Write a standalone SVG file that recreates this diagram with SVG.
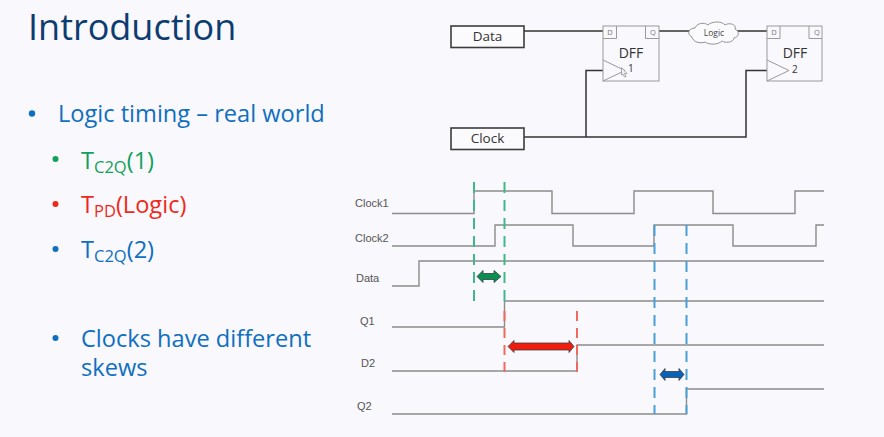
<svg xmlns="http://www.w3.org/2000/svg" width="884" height="437" viewBox="0 0 884 437">
<style>
text{font-family:"Open Sans","Noto Sans","Liberation Sans",sans-serif}
.box{fill:#fbfafd;stroke:#3c3c3c;stroke-width:1.6}
.wire{fill:none;stroke:#333;stroke-width:1.5}
.ff{fill:none;stroke:#9a9a9a;stroke-width:1}
.sig{fill:none;stroke:#8c8c8c;stroke-width:1.4}
.lab{font-size:11px;fill:#555;font-family:"Liberation Sans",sans-serif}
.blab{font-size:13.5px;fill:#333;text-anchor:middle}
.pin{font-size:7.5px;fill:#777;text-anchor:middle}
.dff{font-size:14px;fill:#333;text-anchor:middle}
.num{font-size:10px;fill:#333}
.b1{font-size:23.6px;fill:#0f6fc0}
.sub{font-size:16.5px}
.dg{stroke:#3fb98a;stroke-width:2;stroke-dasharray:11 7;fill:none}
.dr{stroke:#ee6a5f;stroke-width:2;stroke-dasharray:10 7;fill:none}
.db{stroke:#4a9fd6;stroke-width:2;stroke-dasharray:11 7;fill:none}
.arr{stroke:#3a3f45;stroke-width:.8}
</style>
<rect width="884" height="437" fill="#f9f8fc"/>
<g id="slide-text">
<text x="28" y="40" font-size="36" fill="#0c3c70">Introduction</text>
<circle cx="32" cy="113.500" r="3.200" fill="#0f6fc0"/>
<text x="58" y="122" class="b1">Logic timing – real world</text>
<circle cx="55.500" cy="159" r="3" fill="#12a05c"/>
<text x="81" y="169" class="b1" style="fill:#12a05c">T<tspan class="sub" dy="4">C2Q</tspan><tspan dy="-4">(1)</tspan></text>
<circle cx="55.500" cy="204" r="3" fill="#ee2a1c"/>
<text x="81" y="213" class="b1" style="fill:#ee2a1c">T<tspan class="sub" dy="4">PD</tspan><tspan dy="-4">(Logic)</tspan></text>
<circle cx="55.500" cy="249" r="3" fill="#0f6fc0"/>
<text x="81" y="258" class="b1">T<tspan class="sub" dy="4">C2Q</tspan><tspan dy="-4">(2)</tspan></text>
<circle cx="55.500" cy="338" r="3" fill="#0f6fc0"/>
<text x="81" y="347" class="b1">Clocks have different</text>
<text x="81" y="376" class="b1">skews</text>
</g>
<g id="connectors">
<path class="wire" d="M524 31H603M659 31H690M737 31H767"/>
<path class="wire" d="M524 137H746V70.500H767M586 137V70.500H603"/>
</g>
<g id="data-box"><rect class="box" x="451" y="26" width="73" height="21.500"/><text class="blab" x="487.500" y="41">Data</text></g>
<g id="clock-box"><rect class="box" x="451" y="128" width="73" height="21.500"/><text class="blab" x="487.500" y="143">Clock</text></g>
<g id="dff1">
<rect class="ff" x="603" y="26" width="56" height="55"/>
<path class="ff" d="M603 38.500H616.500V26M659 38.500H645.500V26M603 60L625 70.500L603 81"/>
<text class="pin" x="610" y="35">D</text><text class="pin" x="653" y="35">Q</text>
<text class="dff" x="631" y="58">DFF</text><text class="num" x="628" y="72">1</text>
<path d="M621.500 67.500L627 73.500H624.500L626 76.500L624.500 77L623 74L621.500 75Z" fill="#f4f4f6" stroke="#888" stroke-width=".7"/>
</g>
<g id="logic">
<path d="M692 37C686 34 689 28 695 28C697 23 704 22 708 25C712 21 722 21 725 25C730 22 737 25 735 29C740 31 739 37 734 38C733 43 725 43 722 41C718 45 709 45 705 42C700 44 693 42 692 37Z" fill="#fbfafd" stroke="#888" stroke-width=".9"/>
<text x="714" y="36" font-size="8.500" fill="#444" text-anchor="middle">Logic</text>
</g>
<g id="dff2">
<rect class="ff" x="767" y="26" width="55" height="55"/>
<path class="ff" d="M767 38.500H780V26M822 38.500H809V26M767 60L789 70.500L767 81"/>
<text class="pin" x="774" y="35">D</text><text class="pin" x="817" y="35">Q</text>
<text class="dff" x="795" y="58">DFF</text><text class="num" x="792" y="73">2</text>
</g>
<g id="waveforms">
<path class="sig" d="M392 213.500H474V191H552V213.500H634V191H713V213.500H795V191H824"/>
<path class="sig" d="M392 246H495V225H573V246H654V225H733V246H816V225H824"/>
<path class="sig" d="M392 286H419V261H824"/>
<path class="sig" d="M392 327H504.500V301H824"/>
<path class="sig" d="M392 371H577V345H824"/>
<path class="sig" d="M392 414H686.500V389H824"/>
<text class="lab" x="355" y="207">Clock1</text>
<text class="lab" x="355" y="242">Clock2</text>
<text class="lab" x="356" y="282">Data</text>
<text class="lab" x="360" y="325">Q1</text>
<text class="lab" x="361" y="367">D2</text>
<text class="lab" x="357" y="410">Q2</text>
</g>
<g id="markers">
<path class="dg" d="M474 182V305"/>
<path class="dg" d="M504.500 182V305"/>
<path class="dr" d="M504.500 311V375"/>
<path class="dr" d="M577 311V375"/>
<path class="db" d="M654.500 225V414"/>
<path class="db" d="M686.500 225V414"/>
<path class="arr" fill="#0a8f50" d="M477 276.500L483 270.500V273.500H494V270.500L501 276.500L494 282.500V279.500H483V282.500Z"/>
<path class="arr" fill="#f01c0c" d="M508 346.500L514 340.500V343H569V340.500L574 346.500L569 352.500V350H514V352.500Z"/>
<path class="arr" fill="#0a62b8" d="M660 374.500L665 368.500V371.500H679V368.500L684 374.500L679 380.500V377.500H665V380.500Z"/>
</g>
</svg>
